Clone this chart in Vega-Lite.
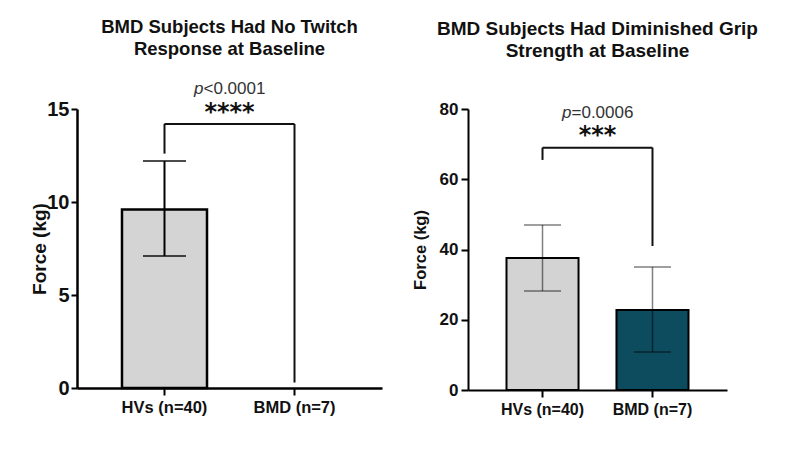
{
  "$schema": "https://vega.github.io/schema/vega-lite/v6.json",
  "background": "white",
  "padding": {"left": 30, "top": 17, "right": 10, "bottom": 10},
  "spacing": 30,
  "config": {
    "font": "Liberation Sans",
    "view": {"stroke": null},
    "title": {"fontWeight": "bold", "color": "#111", "lineHeight": 22, "anchor": "middle"},
    "axis": {"grid": false, "domainColor": "#000", "tickColor": "#000", "labelColor": "#111", "titleColor": "#111", "labelFont": "Liberation Sans", "titleFont": "Liberation Sans"}
  },
  "hconcat": [
    {
      "width": 305,
      "height": 279,
      "title": {"text": ["BMD Subjects Had No Twitch", "Response at Baseline"], "fontSize": 18.5, "offset": 22},
      "data": {"values": [
        {"group": "HVs (n=40)", "mean": 9.6, "lo": 7.1, "hi": 12.2},
        {"group": "BMD (n=7)", "mean": 0, "lo": 0, "hi": 0}
      ]},
      "layer": [
        {
          "transform": [{"filter": "datum.mean > 0"}],
          "mark": {"type": "bar", "fill": "#d4d4d4", "stroke": "#000", "strokeWidth": 2.5},
          "encoding": {
            "x": {"field": "group", "type": "nominal", "sort": null,
              "scale": {"domain": ["HVs (n=40)", "BMD (n=7)"], "paddingInner": 0.346, "paddingOuter": 0.346},
              "axis": {"title": null, "labelAngle": 0, "labelFontSize": 16.5, "labelFontWeight": "bold", "domainWidth": 2.5, "tickWidth": 2, "tickSize": 7, "labelPadding": 4}},
            "y": {"field": "mean", "type": "quantitative", "scale": {"domain": [0, 15]},
              "axis": {"title": "Force (kg)", "values": [0, 5, 10, 15], "labelFontSize": 20, "labelFontWeight": "bold", "titleFontSize": 19, "titleFontWeight": "bold", "domainWidth": 2.5, "tickWidth": 2, "tickSize": 6, "labelPadding": 2, "titlePadding": -3}}
          }
        },
        {
          "transform": [{"filter": "datum.hi > 0"}],
          "mark": {"type": "rule", "color": "#000", "strokeWidth": 2},
          "encoding": {
            "x": {"field": "group", "type": "nominal"},
            "y": {"field": "lo", "type": "quantitative", "scale": {"domain": [0, 15]}}, "y2": {"field": "hi"}}
        },
        {
          "transform": [{"filter": "datum.hi > 0"}, {"fold": ["lo", "hi"], "as": ["k", "v"]}],
          "mark": {"type": "tick", "color": "#000", "thickness": 2, "size": 43},
          "encoding": {
            "x": {"field": "group", "type": "nominal"},
            "y": {"field": "v", "type": "quantitative", "scale": {"domain": [0, 15]}}}
        },
        {
          "data": {"values": [{"from": "HVs (n=40)", "to": "BMD (n=7)", "top": 14.2, "left_end": 12.6, "right_end": 0.3}]},
          "layer": [
            {"mark": {"type": "rule", "color": "#111", "strokeWidth": 2},
             "encoding": {"x": {"field": "from", "type": "nominal"}, "x2": {"field": "to"}, "y": {"field": "top", "type": "quantitative", "scale": {"domain": [0, 15]}}}},
            {"mark": {"type": "rule", "color": "#111", "strokeWidth": 2},
             "encoding": {"x": {"field": "from", "type": "nominal"}, "y": {"field": "top", "type": "quantitative", "scale": {"domain": [0, 15]}}, "y2": {"field": "left_end"}}},
            {"mark": {"type": "rule", "color": "#111", "strokeWidth": 2},
             "encoding": {"x": {"field": "to", "type": "nominal"}, "y": {"field": "top", "type": "quantitative", "scale": {"domain": [0, 15]}}, "y2": {"field": "right_end"}}}
          ]
        },
        {
          "data": {"values": [{"p": "p", "rest": "<0.0001", "stars": "****", "py": 16.07, "sy": 14.39}]},
          "layer": [
            {"mark": {"type": "text", "fontSize": 17, "fontStyle": "italic", "color": "#333", "align": "right", "baseline": "middle", "dx": -26},
             "encoding": {"text": {"field": "p"}, "y": {"field": "py", "type": "quantitative", "scale": {"domain": [0, 15]}}}},
            {"mark": {"type": "text", "fontSize": 17, "color": "#333", "align": "left", "baseline": "middle", "dx": -26},
             "encoding": {"text": {"field": "rest"}, "y": {"field": "py", "type": "quantitative", "scale": {"domain": [0, 15]}}}},
            {"mark": {"type": "text", "font": "DejaVu Sans", "fontSize": 24, "fontWeight": "bold", "color": "#111", "align": "center", "baseline": "alphabetic"},
             "encoding": {"text": {"field": "stars"}, "y": {"field": "sy", "type": "quantitative", "scale": {"domain": [0, 15]}}}}
          ]
        }
      ]
    },
    {
      "width": 259,
      "height": 281,
      "title": {"text": ["BMD Subjects Had Diminished Grip", "Strength at Baseline"], "fontSize": 19, "offset": 39},
      "data": {"values": [
        {"group": "HVs (n=40)", "mean": 37.6, "lo": 28.2, "hi": 47.0},
        {"group": "BMD (n=7)", "mean": 22.8, "lo": 10.8, "hi": 35.0}
      ]},
      "layer": [
        {
          "mark": {"type": "bar", "stroke": "#000", "strokeWidth": 2},
          "encoding": {
            "x": {"field": "group", "type": "nominal", "sort": null,
              "scale": {"domain": ["HVs (n=40)", "BMD (n=7)"], "paddingInner": 0.345, "paddingOuter": 0.35},
              "axis": {"title": null, "labelAngle": 0, "labelFontSize": 16, "labelFontWeight": "bold", "domainWidth": 2, "tickWidth": 2, "tickSize": 7, "labelPadding": 4}},
            "y": {"field": "mean", "type": "quantitative", "scale": {"domain": [0, 80]},
              "axis": {"title": "Force (kg)", "values": [0, 20, 40, 60, 80], "labelFontSize": 17, "labelFontWeight": "bold", "titleFontSize": 16.5, "titleFontWeight": "bold", "domainWidth": 2, "tickWidth": 2, "tickSize": 7, "labelPadding": 3, "titlePadding": 11}},
            "fill": {"field": "group", "type": "nominal", "legend": null,
              "scale": {"domain": ["HVs (n=40)", "BMD (n=7)"], "range": ["#d3d3d3", "#0d4b5f"]}}
          }
        },
        {
          "mark": {"type": "rule", "color": "#000", "opacity": 0.5, "strokeWidth": 1.5},
          "encoding": {
            "x": {"field": "group", "type": "nominal"},
            "y": {"field": "lo", "type": "quantitative", "scale": {"domain": [0, 80]}}, "y2": {"field": "hi"}}
        },
        {
          "transform": [{"fold": ["lo", "hi"], "as": ["k", "v"]}],
          "mark": {"type": "tick", "color": "#000", "opacity": 0.5, "thickness": 1.5, "size": 37},
          "encoding": {
            "x": {"field": "group", "type": "nominal"},
            "y": {"field": "v", "type": "quantitative", "scale": {"domain": [0, 80]}}}
        },
        {
          "data": {"values": [{"from": "HVs (n=40)", "to": "BMD (n=7)", "top": 69, "left_end": 65.5, "right_end": 41}]},
          "layer": [
            {"mark": {"type": "rule", "color": "#111", "strokeWidth": 2},
             "encoding": {"x": {"field": "from", "type": "nominal"}, "x2": {"field": "to"}, "y": {"field": "top", "type": "quantitative", "scale": {"domain": [0, 80]}}}},
            {"mark": {"type": "rule", "color": "#111", "strokeWidth": 2},
             "encoding": {"x": {"field": "from", "type": "nominal"}, "y": {"field": "top", "type": "quantitative", "scale": {"domain": [0, 80]}}, "y2": {"field": "left_end"}}},
            {"mark": {"type": "rule", "color": "#111", "strokeWidth": 2},
             "encoding": {"x": {"field": "to", "type": "nominal"}, "y": {"field": "top", "type": "quantitative", "scale": {"domain": [0, 80]}}, "y2": {"field": "right_end"}}}
          ]
        },
        {
          "data": {"values": [{"p": "p", "rest": "=0.0006", "stars": "***", "py": 78.9, "sy": 70.4}]},
          "layer": [
            {"mark": {"type": "text", "fontSize": 17, "fontStyle": "italic", "color": "#333", "align": "right", "baseline": "middle", "dx": -26},
             "encoding": {"text": {"field": "p"}, "y": {"field": "py", "type": "quantitative", "scale": {"domain": [0, 80]}}}},
            {"mark": {"type": "text", "fontSize": 17, "color": "#333", "align": "left", "baseline": "middle", "dx": -26},
             "encoding": {"text": {"field": "rest"}, "y": {"field": "py", "type": "quantitative", "scale": {"domain": [0, 80]}}}},
            {"mark": {"type": "text", "font": "DejaVu Sans", "fontSize": 24, "fontWeight": "bold", "color": "#111", "align": "center", "baseline": "alphabetic"},
             "encoding": {"text": {"field": "stars"}, "y": {"field": "sy", "type": "quantitative", "scale": {"domain": [0, 80]}}}}
          ]
        }
      ]
    }
  ]
}
